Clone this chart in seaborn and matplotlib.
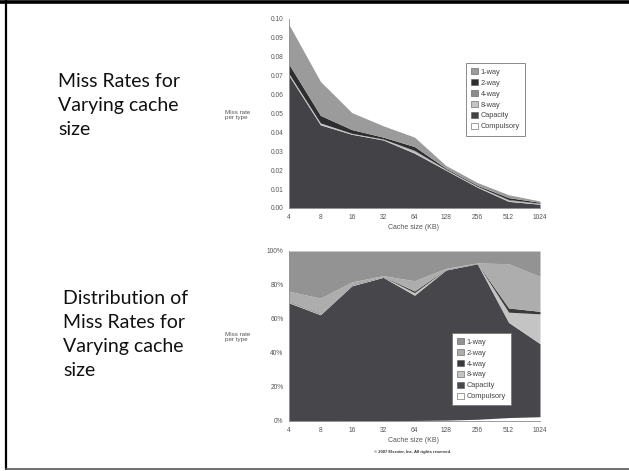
import matplotlib
matplotlib.use("Agg")
import matplotlib.pyplot as plt
import seaborn as sns
from matplotlib.lines import Line2D
from matplotlib.patches import Patch
from matplotlib.ticker import FuncFormatter, FixedLocator

# ---- data ----
cache_kb = [4, 8, 16, 32, 64, 128, 256, 512, 1024]
tick_labels = ["4", "8", "16", "32", "64", "128", "256", "512", "1024"]
series_names = ["1-way", "2-way", "4-way", "8-way", "Capacity", "Compulsory"]

# absolute miss rate per type (stacked bands)
rate_compulsory = [0.0001, 0.0001, 0.0001, 0.0001, 0.0001, 0.0001, 0.0001, 0.0001, 0.0001]
rate_capacity = [0.0699, 0.0439, 0.0389, 0.0359, 0.0289, 0.0199, 0.0109, 0.0034, 0.0019]
rate_8way = [0.001, 0.001, 0.0005, 0.0005, 0.001, 0.0005, 0.0005, 0.0005, 0.0003]
rate_4way = [0.0, 0.0, 0.0, 0.0, 0.0005, 0.0, 0.0, 0.0005, 0.0002]
rate_2way = [0.005, 0.004, 0.002, 0.001, 0.002, 0.0005, 0.0005, 0.001, 0.0005]
rate_1way = [0.021, 0.018, 0.009, 0.006, 0.005, 0.0015, 0.0015, 0.0015, 0.0007]

# distribution of miss rates (percent)
pct_compulsory = [0.1, 0.1, 0.2, 0.2, 0.3, 0.5, 1.0, 2.0, 2.5]
pct_capacity = [69.4, 62.4, 79.3, 84.3, 73.7, 88.3, 91.5, 56.0, 43.0]
pct_8way = [0.5, 0.5, 0.5, 0.3, 1.5, 0.3, 0.2, 6.0, 17.5]
pct_4way = [0.3, 0.3, 0.3, 0.2, 1.0, 0.2, 0.1, 2.5, 1.5]
pct_2way = [6.0, 9.0, 1.5, 0.5, 6.0, 0.5, 0.2, 26.0, 20.5]
pct_1way = [23.7, 27.7, 18.2, 14.5, 17.5, 10.2, 7.0, 7.5, 15.0]

# colours
cols_top = {"1-way": "#9b9b9b", "2-way": "#2e2e30", "4-way": "#8c8c8c",
            "8-way": "#c4c4c4", "Capacity": "#434347", "Compulsory": "#ffffff"}
cols_bot = {"1-way": "#939393", "2-way": "#adadad", "4-way": "#3a3a3c",
            "8-way": "#c4c4c4", "Capacity": "#47474b", "Compulsory": "#ffffff"}

sns.set_style("white")
plt.rcParams["font.family"] = ["Liberation Sans", "DejaVu Sans"]

fig = plt.figure(figsize=(6.29, 4.71), dpi=100)
fig.patch.set_facecolor("white")

ax_top = fig.add_axes([0.4595, 0.5584, 0.399, 0.4013])
ax_bot = fig.add_axes([0.4595, 0.1062, 0.399, 0.3609])

stack_order = ["Compulsory", "Capacity", "8-way", "4-way", "2-way", "1-way"]
top_vals = {"Compulsory": rate_compulsory, "Capacity": rate_capacity, "8-way": rate_8way,
            "4-way": rate_4way, "2-way": rate_2way, "1-way": rate_1way}
bot_vals = {"Compulsory": pct_compulsory, "Capacity": pct_capacity, "8-way": pct_8way,
            "4-way": pct_4way, "2-way": pct_2way, "1-way": pct_1way}

ax_top.stackplot(cache_kb, [top_vals[k] for k in stack_order],
                 colors=[cols_top[k] for k in stack_order], linewidth=0)
ax_bot.stackplot(cache_kb, [bot_vals[k] for k in stack_order],
                 colors=[cols_bot[k] for k in stack_order], linewidth=0)

for ax in (ax_top, ax_bot):
    ax.set_xscale("log", base=2)
    ax.set_xlim(cache_kb[0], cache_kb[-1])
    ax.xaxis.set_major_locator(FixedLocator(cache_kb))
    ax.set_xticklabels(tick_labels)
    ax.xaxis.set_minor_locator(FixedLocator([]))
    for s in ["top", "right"]:
        ax.spines[s].set_visible(False)
    for s in ["left", "bottom"]:
        ax.spines[s].set_color("#8a8a8a")
        ax.spines[s].set_linewidth(0.6)
    ax.tick_params(length=2, width=0.5, color="#8a8a8a", labelsize=4.8,
                   labelcolor="#555555", pad=2)
    ax.set_facecolor("white")

ax_top.set_ylim(0, 0.10)
ax_top.set_yticks([i / 100 for i in range(0, 11)])
ax_top.yaxis.set_major_formatter(FuncFormatter(lambda v, p: f"{v:.2f}"))
ax_bot.set_ylim(0, 100)
ax_bot.set_yticks(range(0, 101, 20))
ax_bot.yaxis.set_major_formatter(FuncFormatter(lambda v, p: f"{v:.0f}%"))

# legends
def legend_for(ax, cols, anchor):
    handles = [Patch(facecolor=cols[n], edgecolor="#555555", linewidth=0.4, label=n)
               for n in series_names]
    leg = ax.legend(handles=handles, loc="upper left", bbox_to_anchor=anchor,
                    bbox_transform=fig.transFigure, fontsize=5.3, frameon=True,
                    fancybox=False, framealpha=1, handlelength=0.9, handleheight=0.9,
                    handletextpad=0.4, labelspacing=0.45, borderpad=0.7,
                    borderaxespad=0)
    leg.get_frame().set_edgecolor("#777777")
    leg.get_frame().set_facecolor("white")
    leg.get_frame().set_linewidth(0.6)
    for t in leg.get_texts():
        t.set_color("#444444")

legend_for(ax_top, cols_top, (0.741, 0.866))
legend_for(ax_bot, cols_bot, (0.7186, 0.293))

# axis labels as free text
for y in (0.756, 0.284):
    fig.text(0.3577, y, "Miss rate\nper type", fontsize=4.5, color="#555555",
             ha="left", va="center", linespacing=1.1)
fig.text(0.6566, 0.516, "Cache size (KB)", fontsize=5, color="#555555", ha="center", va="center")
fig.text(0.6566, 0.0658, "Cache size (KB)", fontsize=5, color="#555555", ha="center", va="center")
fig.text(0.6566, 0.0403, "© 2007 Elsevier, Inc. All rights reserved.", fontsize=3,
         color="#333333", ha="center", va="center", fontweight="bold")

# slide text
fig.text(0.0922, 0.775, "Miss Rates for\nVarying cache\nsize", fontsize=14,
         family=["Lato", "DejaVu Sans"], color="#111111", ha="left", va="center",
         linespacing=1.5)
fig.text(0.100, 0.2898, "Distribution of\nMiss Rates for\nVarying cache\nsize", fontsize=14,
         family=["Lato", "DejaVu Sans"], color="#111111", ha="left", va="center",
         linespacing=1.5)

# slide border
fig.add_artist(Line2D([0, 1], [0.9965, 0.9965], transform=fig.transFigure, color="black", lw=2.6))
fig.add_artist(Line2D([0.0088, 0.0088], [0.005, 1], transform=fig.transFigure, color="black", lw=1.6))
fig.add_artist(Line2D([0.0088, 1], [0.0053, 0.0053], transform=fig.transFigure, color="#555555", lw=1.2))

fig.savefig("out.png", dpi=100)
